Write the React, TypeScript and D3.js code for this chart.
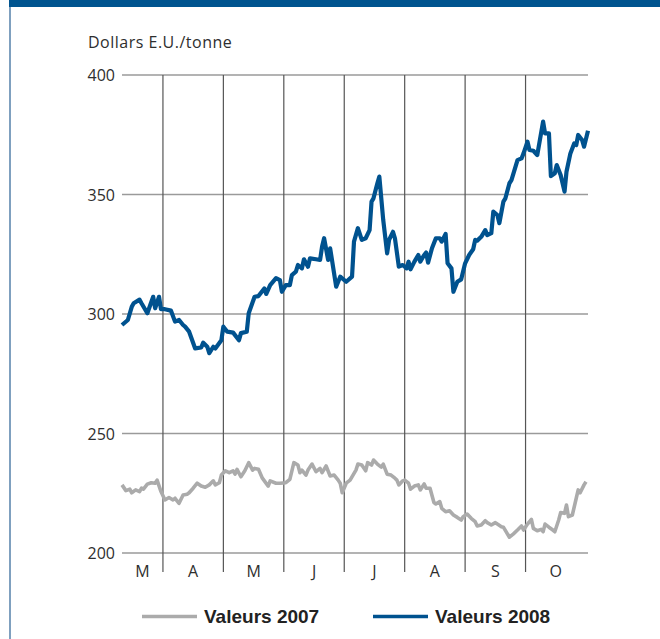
import React from "react";
import * as d3 from "d3";

// Values (month-day position on the 2008 calendar, US$/tonne)
const series2007: [string, number][] = [
  ["03-11",228.5],["03-13",226.1],["03-15",226.7],["03-16",225.2],["03-18",226.4],["03-20",225.7],["03-21",227.1],["03-22",226.7],["03-24",228.8],["03-26",229.4],["03-28",229.2],["03-29",230.5],["03-31",225.7],
  ["04-02",222.2],["04-04",223.2],["04-06",222.2],["04-07",222.9],["04-09",220.8],["04-11",224.3],["04-13",224.6],["04-14",225.2],["04-16",227.1],["04-18",229.2],["04-20",228],["04-22",227.5],["04-24",228.5],["04-26",230.2],["04-27",228.5],["04-29",229.4],["04-30",232.6],
  ["05-02",234.4],["05-04",233.6],["05-06",234.4],["05-07",233],["05-08",235],["05-10",231.9],["05-12",234.4],["05-14",237.8],["05-16",234.7],["05-17",235.4],["05-19",235],["05-21",231.3],["05-24",228],["05-25",230.2],["05-28",229.2],["05-30",229.2],
  ["06-02",229.4],["06-04",230.8],["06-06",237.8],["06-08",236.8],["06-09",233.6],["06-10",234.7],["06-12",232.6],["06-13",234.7],["06-15",237.2],["06-17",234],["06-19",235.4],["06-20",233.6],["06-22",236.4],["06-24",232.2],["06-26",232.6],["06-28",230.5],["06-29",229.2],["06-30",225.2],
  ["07-02",229.2],["07-04",230.5],["07-07",234.7],["07-08",237.2],["07-10",236.8],["07-12",234.4],["07-13",237.8],["07-15",236.8],["07-16",238.9],["07-18",237.2],["07-20",235.9],["07-21",237.2],["07-23",233],["07-25",232.6],["07-27",231.3],["07-28",230.5],["07-29",228.5],["07-31",230.2],
  ["08-01",230.5],["08-03",229.2],["08-04",226.7],["08-06",228],["08-08",228.5],["08-09",226.4],["08-11",228.9],["08-12",227.1],["08-14",227.1],["08-16",221.1],["08-17",220.5],["08-19",221.5],["08-20",218.7],["08-22",217.3],["08-24",217.7],["08-26",215.9],["08-28",214.9],["08-30",213.8],["08-31",215.2],
  ["09-02",216.3],["09-04",214.5],["09-06",213.1],["09-07",211.3],["09-09",211.7],["09-11",213.5],["09-12",212.7],["09-14",211.7],["09-16",212.7],["09-17",212.1],["09-19",211],["09-20",210.8],["09-23",206.6],["09-25",208],["09-27",209.6],["09-29",211.3],["09-30",209.6],
  ["10-02",212.1],["10-04",214.1],["10-05",210.3],["10-07",209.3],["10-09",209.9],["10-10",208.9],["10-11",212.1],["10-13",210.8],["10-15",209.6],["10-16",208.9],["10-18",213.8],["10-19",216.9],["10-21",216.6],["10-22",220.1],["10-23",215.2],["10-25",215.9],["10-27",222.9],["10-28",226.4],["10-29",225.2],["10-31",228.5],
  ["11-01",229.8],
];

const series2008: [string, number][] = [
  ["03-11",295.4],["03-14",297.5],["03-16",303],["03-17",304.5],["03-20",306],["03-21",304.5],["03-24",300.3],["03-27",307.2],["03-28",302.4],["03-30",307.2],["03-31",302],
  ["04-02",302],["04-05",301.4],["04-07",296.8],["04-09",297.5],["04-11",295.4],["04-12",294.7],["04-14",292.6],["04-17",285.6],["04-20",286],["04-21",288],["04-23",286.3],["04-24",283.6],["04-26",286.3],["04-27",285.6],["04-30",289],
  ["05-01",294.7],["05-03",292.6],["05-06",292.2],["05-09",289],["05-10",292],["05-13",292.6],["05-14",300.3],["05-17",307.2],["05-19",307.5],["05-22",310.7],["05-23",308.4],["05-25",312.1],["05-28",315],["05-30",314.2],["05-31",309.3],
  ["06-02",312.1],["06-04",312.1],["06-05",316.3],["06-07",317.7],["06-08",320.5],["06-10",319.1],["06-11",322.9],["06-13",319.8],["06-14",323.3],["06-17",322.9],["06-19",322.6],["06-20",328.2],["06-21",331.7],["06-23",322.6],["06-24",327.5],["06-27",311.4],["06-29",315.6],
  ["07-02",313.5],["07-05",315.6],["07-06",330.3],["07-08",335.9],["07-10",331],["07-12",331.7],["07-14",335.1],["07-15",347],["07-16",348.4],["07-18",354.7],["07-19",357.5],["07-21",339.3],["07-23",325.4],["07-24",331],["07-26",334.4],["07-27",331.7],["07-29",319.8],["07-31",320.5],
  ["08-02",319.1],["08-03",321.9],["08-04",318.7],["08-06",321.9],["08-08",324.7],["08-09",321.9],["08-11",324.7],["08-12",325.7],["08-13",321.5],["08-15",327.5],["08-17",331.7],["08-19",331.7],["08-20",330.3],["08-22",333.5],["08-23",321.2],["08-25",319.1],["08-26",309.3],["08-28",313.5],["08-30",314.5],
  ["09-01",321.2],["09-03",324.7],["09-05",327.1],["09-06",331],["09-07",330.7],["09-09",332.3],["09-11",335.1],["09-12",333],["09-14",333.8],["09-15",342.8],["09-17",341.4],["09-18",338],["09-20",347],["09-21",348.4],["09-23",354.7],["09-24",356],["09-27",364.4],["09-29",365.1],["09-30",367.2],
  ["10-02",372.1],["10-03",368.6],["10-05",368.3],["10-07",366.5],["10-10",380.5],["10-11",375.6],["10-13",375.6],["10-14",357.7],["10-16",358.9],["10-17",362.3],["10-19",358.2],["10-21",351.2],["10-22",359.5],["10-24",367.2],["10-26",371.4],["10-27",370.7],["10-28",374.9],["10-30",372.8],["10-31",370],
  ["11-02",376.7],
];

const monthLabels = ["M", "A", "M", "J", "J", "A", "S", "O"];
const yTicks = [200, 250, 300, 350, 400];
const yDomain: [number, number] = [200, 400];
const xStart = "03-11";
const xEnd = "11-02";
const unitLabel = "Dollars E.U./tonne";
const legendLabels = ["Valeurs 2007", "Valeurs 2008"];

const BLUE = "#00528f";
const GREY = "#ababab";
const legendColors = [GREY, BLUE];

// position in months since 1 March (month-day on the 2008 calendar)
function monthPos(md: string): number {
  const [m, d] = md.split("-").map(Number);
  const days = new Date(2008, m, 0).getDate();
  return m - 3 + (d - 1) / days;
}

export default function App() {
  const W = 660;
  const H = 639;
  const left = 122;
  const right = 588;
  const top = 75;
  const bottom = 553;

  const x = d3.scaleLinear().domain([monthPos(xStart), monthPos(xEnd)]).range([left, right]);
  const y = d3.scaleLinear().domain(yDomain).range([bottom, top]);

  const line = d3
    .line<[string, number]>()
    .x((d) => x(monthPos(d[0])))
    .y((d) => y(d[1]))
    .curve(d3.curveLinear);

  const [d0, d1] = x.domain();
  const boundaries = d3.range(1, monthLabels.length); // Apr..Oct
  const labelPos = monthLabels.map((_, i) => {
    const a = Math.max(i, d0);
    const b = Math.min(i + 1, d1);
    return x((a + b) / 2);
  });

  const axisFont = "'Open Sans', 'DejaVu Sans', sans-serif";
  const legendFont = "'Liberation Sans', Arial, sans-serif";

  return (
    <svg
      width={W}
      height={H}
      viewBox={`0 0 ${W} ${H}`}
      style={{ position: "absolute", left: 0, top: 0, background: "#fff" }}
    >
      <rect x={0} y={0} width={W} height={H} fill="#fff" />
      {/* frame */}
      <rect x={9} y={0} width={W - 9} height={7} fill="#00548f" />
      <rect x={9} y={7} width={2} height={H - 7} fill="#7fa0bf" />

      {/* unit label */}
      <text x={88} y={47.5} fontFamily={axisFont} fontSize={16} letterSpacing={0.5} fill="#2e2e2e">
        {unitLabel}
      </text>

      {/* horizontal gridlines */}
      {yTicks.map((t) => (
        <g key={t}>
          <line x1={left} x2={right} y1={y(t)} y2={y(t)} stroke="#9a9a9a" strokeWidth={1.5} />
          <text
            x={115}
            y={y(t) + 6}
            textAnchor="end"
            fontFamily={axisFont}
            fontSize={16}
            fill="#2e2e2e"
          >
            {t}
          </text>
        </g>
      ))}

      {/* month boundaries */}
      {boundaries.map((b) => (
        <line
          key={b}
          x1={x(b)}
          x2={x(b)}
          y1={top}
          y2={572}
          stroke="#555"
          strokeWidth={1.2}
        />
      ))}
      {monthLabels.map((m, i) => (
        <text
          key={i}
          x={labelPos[i]}
          y={576.5}
          textAnchor="middle"
          fontFamily={axisFont}
          fontSize={16}
          fill="#2e2e2e"
        >
          {m}
        </text>
      ))}

      {/* series */}
      <path
        d={line(series2007) ?? ""}
        fill="none"
        stroke={GREY}
        strokeWidth={3.6}
        strokeLinejoin="round"
        strokeLinecap="butt"
      />
      <path
        d={line(series2008) ?? ""}
        fill="none"
        stroke={BLUE}
        strokeWidth={4.2}
        strokeLinejoin="round"
        strokeLinecap="butt"
      />

      {/* legend */}
      {legendLabels.map((label, i) => {
        const lx = i === 0 ? 142 : 373;
        return (
          <g key={label}>
            <line
              x1={lx}
              x2={lx + 55}
              y1={616.5}
              y2={616.5}
              stroke={legendColors[i]}
              strokeWidth={3.4}
            />
            <text
              x={lx + 62}
              y={623.3}
              fontFamily={legendFont}
              fontWeight="bold"
              fontSize={19}
              fill="#222"
            >
              {label}
            </text>
          </g>
        );
      })}
    </svg>
  );
}
